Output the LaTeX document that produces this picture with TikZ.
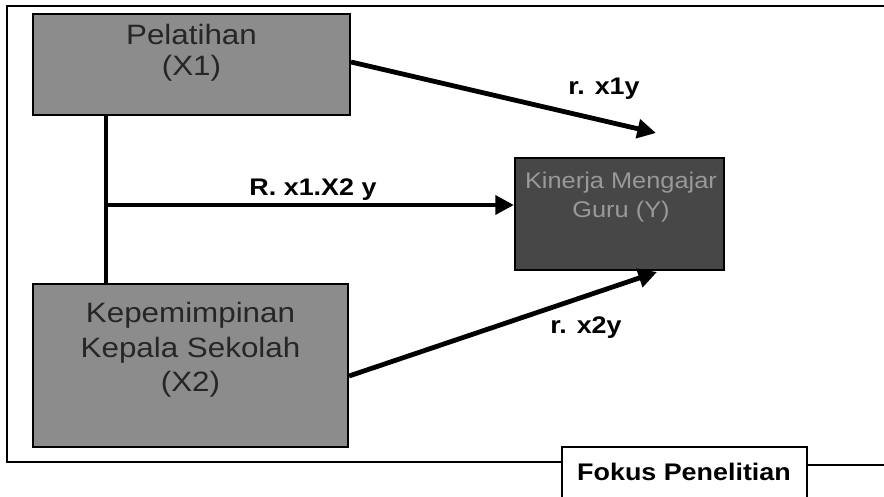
\documentclass[tikz,border=0pt]{standalone}
\usepackage{fontspec}
\setmainfont{Liberation Sans}[FakeStretch=1.12]
\usetikzlibrary{arrows.meta}
\definecolor{lightbox}{gray}{0.55}
\definecolor{darkbox}{gray}{0.28}
\tikzset{
  px/.style={x=0.75pt,y=-0.75pt},
  frame/.style={line width=1.5pt,black},
  varbox/.style={draw=black,line width=1.6pt,fill=lightbox,inner sep=0pt},
  ybox/.style={draw=black,line width=1.6pt,fill=darkbox,inner sep=0pt},
  boxtext/.style={align=center,text=black!85},
  ytext/.style={align=center,font=\fontsize{17}{22}\selectfont,text=black!40},
  rlabel/.style={font=\bfseries\fontsize{18}{22}\selectfont,inner sep=0pt},
  link/.style={line width=3.6pt,-{Triangle[length=14pt,width=14pt]}},
  joint/.style={line width=3pt}
}
\begin{document}
\begin{tikzpicture}[px]
\useasboundingbox (0,0) rectangle (884,496);
\clip (0,0) rectangle (884,496);

% outer frame, broken at the bottom right by the caption box
\draw[frame] (884,6) -- (7,6) -- (7,462) -- (562,462);
\draw[frame] (807,465) -- (884,465);
\draw[line width=1.4pt] (562,510) -- (562,447) -- (807,447) -- (807,510);
\node[font=\bfseries\fontsize{18}{20}\selectfont] (fokus) at (684,472) {Fokus Penelitian};

% variable boxes
\node[varbox,minimum width=317*0.75pt,minimum height=101*0.75pt] (x1) at (191.5,64.5) {};
\node[boxtext,font=\fontsize{21}{23}\selectfont] (x1t) at (191.5,53) {Pelatihan\\(X1)};

\node[varbox,minimum width=315*0.75pt,minimum height=163*0.75pt] (x2) at (190.5,365.5) {};
\node[boxtext,font=\fontsize{21}{26}\selectfont] (x2t) at (190.5,350) {Kepemimpinan\\Kepala Sekolah\\(X2)};

\node[ybox,minimum width=209*0.75pt,minimum height=112*0.75pt] (y) at (619.5,214) {};
\node[ytext] (yt) at (621,197) {Kinerja Mengajar\\Guru (Y)};

% connectors
\coordinate (jn) at (106,205);
\draw[joint] (x1.south -| jn) -- (x2.north -| jn);
\draw[link] (jn) -- (jn -| y.west);

\coordinate (t1) at (656,133);
\draw[link] (x1.east |- 0,62) -- (t1);

\coordinate (t3) at (657,272);
\draw[link] (x2.east |- 0,376) -- (t3);

% correlation labels
\node[rlabel] (r1) at (604,89) {r. x1y};
\node[rlabel] (r12) at (313,190) {R. x1.X2 y};
\node[rlabel] (r2) at (586,328) {r. x2y};
\end{tikzpicture}
\end{document}
